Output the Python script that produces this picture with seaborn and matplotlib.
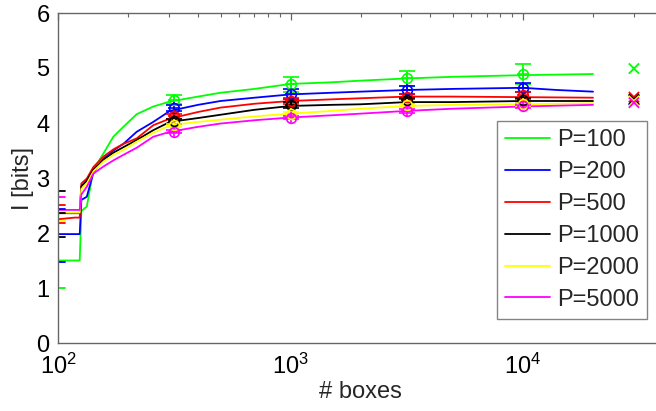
import numpy as np
import pandas as pd
import matplotlib
matplotlib.use("Agg")
import matplotlib.pyplot as plt
import seaborn as sns
from matplotlib.ticker import LogLocator, LogFormatterSciNotation, NullFormatter

# ---------------- data ----------------
labels = ["P=100", "P=200", "P=500", "P=1000", "P=2000", "P=5000"]
colors = ["#00ff00", "#0000ff", "#ff0000", "#000000", "#ffff00", "#ff00ff"]

x_green = [100, 100, 124, 126, 133, 142, 157, 173, 191, 218, 257, 303, 400, 500, 700, 1000, 1500, 2000, 3162, 5000, 10000, 20000]
I_green = [0.95, 1.50, 1.50, 2.40, 2.48, 3.15, 3.45, 3.75, 3.93, 4.16, 4.30, 4.39, 4.48, 4.55, 4.62, 4.71, 4.74, 4.77, 4.81, 4.84, 4.87, 4.89]

x_blue = [100, 100, 124, 126, 133, 142, 157, 173, 191, 218, 257, 303, 400, 500, 700, 1000, 1500, 2000, 3162, 5000, 10000, 14000, 20000]
I_blue = [1.47, 1.98, 1.98, 2.60, 2.66, 3.10, 3.35, 3.50, 3.62, 3.84, 4.02, 4.22, 4.33, 4.40, 4.46, 4.52, 4.55, 4.57, 4.60, 4.62, 4.64, 4.60, 4.57]

x_red = [100, 118, 124, 126, 133, 142, 157, 173, 191, 218, 257, 303, 400, 500, 700, 1000, 1500, 2000, 3162, 5000, 10000, 20000]
I_red = [2.25, 2.28, 2.28, 2.90, 2.99, 3.20, 3.39, 3.52, 3.62, 3.72, 3.96, 4.08, 4.20, 4.28, 4.35, 4.40, 4.43, 4.45, 4.48, 4.48, 4.47, 4.46]

x_black = [100, 124, 126, 133, 142, 157, 173, 191, 218, 257, 303, 400, 500, 700, 1000, 1500, 2000, 3162, 5000, 10000, 20000]
I_black = [2.36, 2.36, 2.85, 2.95, 3.15, 3.33, 3.46, 3.56, 3.69, 3.87, 4.02, 4.09, 4.15, 4.24, 4.31, 4.33, 4.34, 4.38, 4.38, 4.40, 4.40]

x_yellow = [100, 124, 126, 133, 142, 157, 173, 191, 218, 257, 303, 400, 500, 700, 1000, 1500, 2000, 3162, 5000, 10000, 20000]
I_yellow = [2.37, 2.37, 2.80, 2.90, 3.12, 3.30, 3.42, 3.51, 3.66, 3.82, 3.96, 4.02, 4.06, 4.12, 4.17, 4.22, 4.26, 4.31, 4.33, 4.34, 4.36]

x_magenta = [100, 124, 126, 133, 142, 157, 173, 191, 218, 257, 303, 400, 500, 700, 1000, 1500, 2000, 3162, 5000, 10000, 20000]
I_magenta = [2.42, 2.42, 2.70, 2.84, 3.08, 3.21, 3.32, 3.42, 3.55, 3.75, 3.84, 3.93, 3.99, 4.05, 4.10, 4.14, 4.17, 4.22, 4.26, 4.30, 4.33]

# short initial stubs (value, series index)
stub_x = [100, 107]
stub_vals = [2.76, 2.66, 2.50, 2.44, 2.36, 2.21, 2.19, 1.93, 1.47, 1.00]
stub_series = [3, 5, 2, 1, 3, 4, 2, 3, 1, 0]

# error-bar points
err_x = [316, 1000, 3162, 10000]
err_mean = [
    [4.42, 4.70, 4.81, 4.89],
    [4.27, 4.52, 4.60, 4.64],
    [4.12, 4.40, 4.48, 4.50],
    [4.03, 4.33, 4.41, 4.41],
    [3.96, 4.16, 4.32, 4.34],
    [3.84, 4.10, 4.22, 4.30],
]
err_sd = [
    [0.08, 0.13, 0.14, 0.18],
    [0.06, 0.09, 0.07, 0.08],
    [0.05, 0.06, 0.05, 0.07],
    [0.04, 0.05, 0.05, 0.05],
    [0.03, 0.04, 0.03, 0.03],
    [0.03, 0.03, 0.03, 0.03],
]

# asymptotic estimates (crosses)
cross_x = 30000
cross_vals = [4.99, 4.42, 4.47, 4.43, 4.40, 4.37]

xs = [x_green, x_blue, x_red, x_black, x_yellow, x_magenta]
Is = [I_green, I_blue, I_red, I_black, I_yellow, I_magenta]

# ---------------- style ----------------
sns.set_style("white")
plt.rcParams["font.family"] = ["Liberation Sans", "DejaVu Sans"]
plt.rcParams["mathtext.fontset"] = "custom"
plt.rcParams["mathtext.rm"] = "Liberation Sans"
plt.rcParams["mathtext.default"] = "regular"

FS = 17
axcol = "#666666"

fig = plt.figure(figsize=(6.56, 4.11), dpi=100)
ax = fig.add_axes([58 / 656, 68 / 411, 605 / 656, 330 / 411])

rows = []
for lab, xv, iv in zip(labels, xs, Is):
    for k, (a, b) in enumerate(zip(xv, iv)):
        rows.append({"boxes": a, "I": b, "P": lab, "order": k})
df = pd.DataFrame(rows)

sns.lineplot(data=df, x="boxes", y="I", hue="P", hue_order=labels,
             palette=colors, estimator=None, sort=False, lw=1.3, ax=ax)

# stubs
for v, s in zip(stub_vals, stub_series):
    sdf = pd.DataFrame({"boxes": stub_x, "I": [v, v]})
    sns.lineplot(data=sdf, x="boxes", y="I", color=colors[s], lw=1.3,
                 estimator=None, ax=ax, legend=False)

# error bars
for c, m, e in zip(colors, err_mean, err_sd):
    ax.errorbar(err_x, m, yerr=e, fmt="o", color=c, mfc="none", ms=7,
                mew=1.2, elinewidth=1.2, capsize=6, capthick=1.2, zorder=4)
    ax.plot(err_x, m, "+", color=c, ms=9, mew=1.2, zorder=4)

# crosses
cdf = pd.DataFrame({"boxes": [cross_x] * 6, "I": cross_vals, "P": labels})
sns.scatterplot(data=cdf, x="boxes", y="I", hue="P", hue_order=labels,
                palette=colors, marker="x", s=55, linewidth=1.3,
                ax=ax, legend=False, zorder=5)

ax.set_xscale("log")
ax.set_xlim(100, 40000)
ax.set_ylim(0, 6)
ax.set_yticks(range(7))
ax.xaxis.set_major_locator(LogLocator(base=10, numticks=10))
ax.xaxis.set_minor_locator(LogLocator(base=10, subs=np.arange(2, 10), numticks=20))
ax.xaxis.set_major_formatter(LogFormatterSciNotation())
ax.xaxis.set_minor_formatter(NullFormatter())

for sp in ax.spines.values():
    sp.set_visible(True)
    sp.set_color(axcol)
    sp.set_linewidth(1.0)

ax.tick_params(axis="both", which="both", direction="in", top=True, right=True,
               colors=axcol, labelcolor="black", labelsize=FS)
ax.tick_params(which="major", length=5, width=0.9)
ax.tick_params(axis="y", which="major", pad=6)
ax.tick_params(axis="x", which="major", pad=8)
ax.tick_params(which="minor", length=3, width=0.8)

ax.set_xlabel("# boxes", fontsize=FS, labelpad=1)
ax.set_ylabel("I [bits]", fontsize=FS, labelpad=2)

leg = ax.legend(loc="lower right", bbox_to_anchor=(0.9736, 0.0727),
                borderaxespad=0, fontsize=FS, frameon=True, fancybox=False,
                edgecolor=axcol, handlelength=1.9, handletextpad=0.3,
                labelspacing=0.42, borderpad=0.35, title=None)
leg.get_frame().set_linewidth(1.0)
for h in leg.get_lines():
    h.set_linewidth(1.3)

fig.savefig("out.png", dpi=100)
